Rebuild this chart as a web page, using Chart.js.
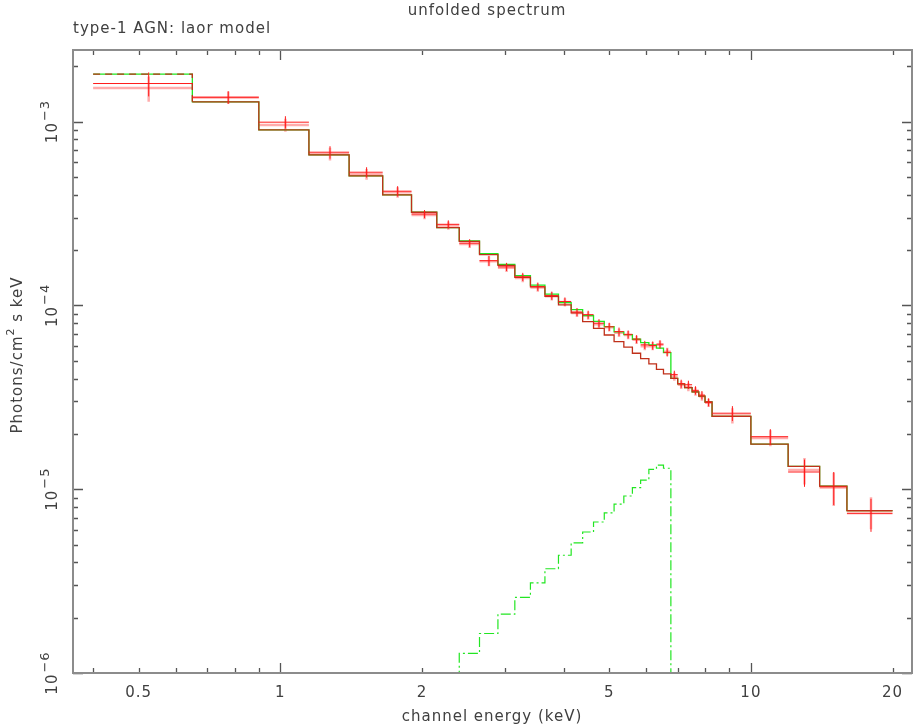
<!DOCTYPE html>
<html>
<head>
<meta charset="utf-8">
<script src="https://cdn.jsdelivr.net/npm/chart.js@4.4.0/dist/chart.umd.min.js"></script>
<style>
  html, body { margin: 0; padding: 0; background: #fff; }
  canvas { display: block; }
</style>
</head>
<body>
<canvas id="spectrum" width="914" height="728"></canvas>
<script>
// channel bin edges (keV)
const binEdges = [0.40, 0.65, 0.90, 1.15, 1.40, 1.65, 1.90, 2.15, 2.40, 2.65, 2.90, 3.15, 3.40, 3.65, 3.90,
    4.15, 4.39, 4.63, 4.88, 5.12, 5.37, 5.60, 5.83, 6.07, 6.30, 6.52, 6.76, 6.99, 7.23, 7.50, 7.75, 7.99,
    8.27, 10.0, 12.0, 14.0, 16.0, 20.0];

// model without the line (red) and total model (green), photons/cm2/s/keV
const modelContinuum = [1.81e-3, 1.28e-3, 9.0e-4, 6.58e-4, 5.06e-4, 3.99e-4, 3.21e-4, 2.65e-4, 2.23e-4, 1.89e-4,
    1.65e-4, 1.42e-4, 1.26e-4, 1.12e-4, 1.005e-4, 9.1e-5, 8.15e-5, 7.5e-5, 6.9e-5, 6.35e-5,
    5.92e-5, 5.49e-5, 5.13e-5, 4.80e-5, 4.49e-5, 4.24e-5, 4.01e-5, 3.74e-5, 3.57e-5, 3.38e-5,
    3.21e-5, 2.98e-5, 2.49e-5, 1.76e-5, 1.33e-5, 1.04e-5, 7.64e-6];
const modelTotal = [1.81e-3, 1.28e-3, 9.0e-4, 6.58e-4, 5.06e-4, 3.99e-4, 3.21e-4, 2.65e-4, 2.24e-4, 1.91e-4,
    1.67e-4, 1.45e-4, 1.29e-4, 1.15e-4, 1.035e-4, 9.48e-5, 8.79e-5, 8.19e-5, 7.66e-5, 7.17e-5,
    6.93e-5, 6.54e-5, 6.27e-5, 6.09e-5, 5.85e-5, 5.53e-5, 4.01e-5, 3.74e-5, 3.57e-5, 3.38e-5,
    3.21e-5, 2.98e-5, 2.49e-5, 1.76e-5, 1.33e-5, 1.04e-5, 7.64e-6];

// laor line component
const lineEdges = [2.40, 2.65, 2.90, 3.15, 3.40, 3.65, 3.90, 4.15, 4.39, 4.63, 4.88, 5.12, 5.37, 5.60,
    5.83, 6.07, 6.30, 6.52, 6.76];
const lineFlux = [1.28e-6, 1.64e-6, 2.09e-6, 2.58e-6, 3.09e-6, 3.69e-6, 4.37e-6, 5.10e-6, 5.85e-6,
    6.63e-6, 7.43e-6, 8.30e-6, 9.18e-6, 1.02e-5, 1.12e-5, 1.28e-5, 1.35e-5, 1.30e-5];

// unfolded data, two exposures
const dataA = [1.61e-3, 1.355e-3, 9.92e-4, 6.81e-4, 5.30e-4, 4.18e-4, 3.14e-4, 2.76e-4, 2.18e-4, 1.75e-4,
    1.62e-4, 1.43e-4, 1.265e-4, 1.13e-4, 1.05e-4, 9.2e-5, 8.9e-5, 8.0e-5, 7.65e-5, 7.2e-5,
    6.95e-5, 6.55e-5, 6.1e-5, 6.05e-5, 6.15e-5, 5.55e-5, 4.2e-5, 3.75e-5, 3.7e-5, 3.45e-5,
    3.25e-5, 2.97e-5, 2.59e-5, 1.93e-5, 1.24e-5, 1.03e-5, 7.36e-6];
const dataB = [1.52e-3, 1.35e-3, 9.58e-4, 6.66e-4, 5.17e-4, 4.12e-4, 3.10e-4, 2.72e-4, 2.16e-4, 1.74e-4,
    1.60e-4, 1.41e-4, 1.25e-4, 1.12e-4, 1.04e-4, 9.1e-5, 8.8e-5, 7.9e-5, 7.6e-5, 7.1e-5,
    6.9e-5, 6.5e-5, 6.0e-5, 6.0e-5, 6.1e-5, 5.6e-5, 4.1e-5, 3.7e-5, 3.6e-5, 3.4e-5,
    3.2e-5, 2.95e-5, 2.52e-5, 1.9e-5, 1.27e-5, 1.02e-5, 7.55e-6];
const dataErr = [2.4e-4, 1.06e-4, 7.7e-5, 5.3e-5, 3.4e-5, 2.7e-5, 1.6e-5, 1.4e-5, 1.1e-5, 1.1e-5,
    8.3e-6, 7.3e-6, 6.5e-6, 5.8e-6, 5.4e-6, 4.7e-6, 4.5e-6, 4.1e-6, 3.9e-6, 3.7e-6,
    3.5e-6, 3.3e-6, 3.1e-6, 3.1e-6, 3.1e-6, 2.8e-6, 2.1e-6, 1.9e-6, 1.9e-6, 1.8e-6,
    1.7e-6, 1.5e-6, 2.4e-6, 1.9e-6, 2.1e-6, 2.1e-6, 1.5e-6];

// axis labels
const xLabelValues = [0.5, 1, 2, 5, 10, 20];
const xLabelTexts = ['0.5', '1', '2', '5', '10', '20'];
const yLabelValues = [1e-6, 1e-5, 1e-4, 1e-3];
const yLabelExps = ['\u22126', '\u22125', '\u22124', '\u22123'];

const X_MIN = 0.3625, X_MAX = 22.0, Y_MIN = 1e-6, Y_MAX = 2.45e-3;
const FONT = '"DejaVu Sans", "Liberation Sans", sans-serif';
const TEXT_COLOR = '#404040';

function stepPoints(edges, values) {
    const pts = values.map((v, i) => ({ x: edges[i], y: v }));
    pts.push({ x: edges[edges.length - 1], y: values[values.length - 1] });
    return pts;
}

// horizontal bars across each bin, broken by null points
function binBars(edges, values) {
    const pts = [];
    values.forEach((v, i) => {
        pts.push({ x: edges[i], y: v }, { x: edges[i + 1], y: v }, { x: edges[i + 1], y: null });
    });
    return pts;
}

// vertical error bars at bin centres
function errBars(edges, values, errs) {
    const pts = [];
    values.forEach((v, i) => {
        const c = (edges[i] + edges[i + 1]) / 2;
        pts.push({ x: c, y: v - errs[i] }, { x: c, y: v + errs[i] }, { x: c, y: null });
    });
    return pts;
}

const linePts = [{ x: lineEdges[0], y: 1e-8 }]
    .concat(stepPoints(lineEdges, lineFlux))
    .concat([{ x: lineEdges[lineEdges.length - 1], y: 1e-8 }]);

const frameAndLabels = {
    id: 'frameAndLabels',
    afterDraw(chart) {
        const { ctx, chartArea: a, scales: { x, y } } = chart;
        ctx.save();

        // ticks on all four sides, pointing inwards
        ctx.strokeStyle = '#555';
        ctx.lineWidth = 1.3;
        ctx.beginPath();
        [0.1, 1, 10].forEach(d => {
            for (let m = 1; m <= 9; m++) {
                const v = m * d;
                if (v < X_MIN || v > X_MAX) continue;
                const px = Math.round(x.getPixelForValue(v)) + 0.5;
                const len = m === 1 ? 10 : 5;
                ctx.moveTo(px, a.bottom); ctx.lineTo(px, a.bottom - len);
                ctx.moveTo(px, a.top); ctx.lineTo(px, a.top + len);
            }
        });
        [1e-6, 1e-5, 1e-4, 1e-3].forEach(d => {
            for (let m = 1; m <= 9; m++) {
                const v = m * d;
                if (v < Y_MIN || v > Y_MAX) continue;
                const py = Math.round(y.getPixelForValue(v)) + 0.5;
                const len = m === 1 ? 10 : 5;
                ctx.moveTo(a.left, py); ctx.lineTo(a.left + len, py);
                ctx.moveTo(a.right, py); ctx.lineTo(a.right - len, py);
            }
        });
        ctx.stroke();

        // frame
        ctx.strokeStyle = '#8c8c8c';
        ctx.lineWidth = 2;
        ctx.strokeRect(a.left, a.top, a.right - a.left, a.bottom - a.top);

        // texts
        ctx.fillStyle = TEXT_COLOR;
        ctx.font = '15px ' + FONT;
        ctx.letterSpacing = '1px';
        ctx.textBaseline = 'alphabetic';
        ctx.textAlign = 'center';
        xLabelValues.forEach((v, i) => {
            ctx.fillText(xLabelTexts[i], x.getPixelForValue(v), 697);
        });
        ctx.fillText('channel energy (keV)', 492, 721);
        ctx.fillText('unfolded spectrum', 487, 15);
        ctx.textAlign = 'left';
        ctx.fillText('type-1 AGN: laor model', 73, 33);

        // y tick labels, rotated
        yLabelValues.forEach((v, i) => {
            const py = y.getPixelForValue(v);
            ctx.save();
            ctx.translate(57, py);
            ctx.rotate(-Math.PI / 2);
            ctx.font = '15px ' + FONT;
            const w1 = ctx.measureText('10').width;
            ctx.font = '13px ' + FONT;
            const w2 = ctx.measureText(yLabelExps[i]).width;
            const start = -(w1 + w2 + 1) / 2;
            ctx.textAlign = 'left';
            ctx.font = '15px ' + FONT;
            ctx.fillText('10', start, 0);
            ctx.font = '13px ' + FONT;
            ctx.fillText(yLabelExps[i], start + w1 + 1, -8);
            ctx.restore();
        });

        // y title
        ctx.save();
        ctx.translate(22, 355);
        ctx.rotate(-Math.PI / 2);
        ctx.font = '15px ' + FONT;
        const p1 = 'Photons/cm', p3 = ' s keV';
        const w1 = ctx.measureText(p1).width, w3 = ctx.measureText(p3).width;
        ctx.font = '11px ' + FONT;
        const w2 = ctx.measureText('2').width;
        let sx = -(w1 + w2 + w3) / 2;
        ctx.textAlign = 'left';
        ctx.font = '15px ' + FONT;
        ctx.fillText(p1, sx, 0);
        ctx.font = '11px ' + FONT;
        ctx.fillText('2', sx + w1, -8);
        ctx.font = '15px ' + FONT;
        ctx.fillText(p3, sx + w1 + w2, 0);
        ctx.restore();

        ctx.restore();
    }
};

const ctx = document.getElementById('spectrum').getContext('2d');
new Chart(ctx, {
    type: 'line',
    data: {
        datasets: [
            {
                label: 'data A horizontal',
                data: binBars(binEdges, dataA),
                borderColor: '#ff1a1a',
                borderWidth: 1,
                order: 1
            },
            {
                label: 'data A vertical',
                data: errBars(binEdges, dataA, dataErr),
                borderColor: '#ff1a1a',
                borderWidth: 1,
                order: 1
            },
            {
                label: 'continuum model',
                data: stepPoints(binEdges, modelContinuum),
                stepped: 'before',
                borderColor: '#c0301a',
                borderWidth: 1.3,
                segment: { borderDash: c => c.p0DataIndex === 0 ? [7, 5] : undefined },
                order: 2
            },
            {
                label: 'total model',
                data: stepPoints(binEdges, modelTotal),
                stepped: 'before',
                borderColor: '#1ee61e',
                borderWidth: 1.3,
                order: 3
            },
            {
                label: 'data B horizontal',
                data: binBars(binEdges, dataB),
                borderColor: 'rgba(255, 70, 70, 0.45)',
                borderWidth: 2.5,
                order: 4
            },
            {
                label: 'data B vertical',
                data: errBars(binEdges, dataB, dataErr),
                borderColor: 'rgba(255, 70, 70, 0.45)',
                borderWidth: 2.5,
                order: 4
            },
            {
                label: 'laor line',
                data: linePts,
                stepped: 'before',
                borderColor: '#22e622',
                borderWidth: 1.2,
                borderDash: [10, 3, 2, 3],
                order: 5
            }
        ]
    },
    options: {
        responsive: false,
        animation: false,
        devicePixelRatio: 1,
        layout: { padding: { left: 73, right: 2, top: 50, bottom: 55 } },
        plugins: { legend: { display: false }, tooltip: { enabled: false } },
        elements: { point: { radius: 0 }, line: { tension: 0 } },
        scales: {
            x: { type: 'logarithmic', min: X_MIN, max: X_MAX, display: false },
            y: { type: 'logarithmic', min: Y_MIN, max: Y_MAX, display: false }
        }
    },
    plugins: [frameAndLabels]
});
</script>
</body>
</html>
